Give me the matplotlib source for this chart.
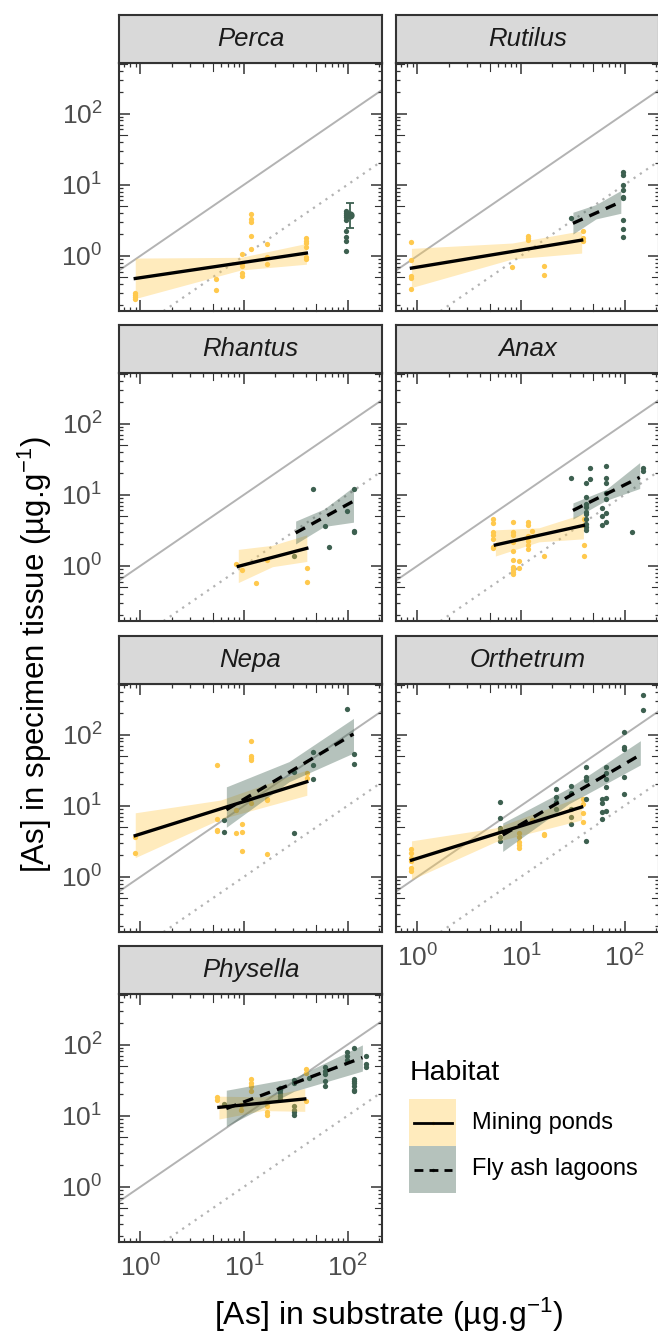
import numpy as np
import matplotlib
matplotlib.use("Agg")
import matplotlib.pyplot as plt
from matplotlib.ticker import LogLocator, NullFormatter
from matplotlib.transforms import blended_transform_factory
from matplotlib.patches import Rectangle

plt.rcParams['font.family'] = ['Liberation Sans', 'DejaVu Sans']
plt.rcParams['mathtext.fontset'] = 'custom'
plt.rcParams['mathtext.rm'] = 'Liberation Sans'
plt.rcParams['mathtext.it'] = 'Liberation Sans:italic'
plt.rcParams['mathtext.bf'] = 'Liberation Sans:bold'

# ---- data (ug/g, log-log) ----
species = ["Perca", "Rutilus", "Rhantus", "Anax", "Nepa", "Orthetrum", "Physella"]
habitats = ["Mining ponds", "Fly ash lagoons"]

# Perca
perca_mp_x = [0.88] * 4 + [5.4] * 2 + [9.6] * 5 + [11.8] * 5 + [16.8] * 3 + [40] * 6
perca_mp_y = [0.30, 0.28, 0.26, 0.25, 0.47, 0.33, 1.05, 0.80, 0.72, 0.58, 0.52,
              3.9, 3.3, 3.0, 1.9, 1.23, 1.46, 0.97, 0.76, 1.76, 1.63, 1.5, 1.31, 0.95, 0.90]
perca_fa_x = [96] * 9
perca_fa_y = [4.2, 4.0, 3.78, 3.54, 3.18, 2.2, 1.81, 1.63, 1.18]
perca_fa_mean = [105, 3.74]          # x, y of summary point
perca_fa_range = [2.46, 5.5]          # error bar

# Rutilus
rutilus_mp_x = [0.87] * 5 + [8.2] + [11.6] * 3 + [16.7] * 2 + [40] * 3
rutilus_mp_y = [1.58, 0.87, 0.52, 0.49, 0.34, 0.70, 1.92, 1.78, 1.66, 0.72, 0.53, 2.25, 1.8, 1.6]
rutilus_fa_x = [30.3] + [97] * 9
rutilus_fa_y = [3.4, 15.3, 13.5, 10, 8.5, 6.8, 6.5, 3.2, 2.4, 1.85]

# Rhantus
rhantus_mp_x = [8.3, 9.5, 13, 16.8, 41, 41]
rhantus_mp_y = [1.06, 0.87, 0.57, 1.2, 0.93, 0.59]
rhantus_fa_x = [30.5, 46.5, 60.3, 66.5, 98, 116, 116, 116]
rhantus_fa_y = [1.39, 12.2, 3.6, 1.82, 5.9, 12, 3.07, 3.0]

# Anax
anax_mp_x = [5.4] * 7 + [8.3] * 10 + [9.5] * 2 + [11.7] * 6 + [12.9, 16.7] + [40.8] * 4
anax_mp_y = [4.5, 4.0, 3.0, 2.7, 2.4, 1.86, 1.76,
             4.1, 3.0, 2.75, 2.14, 1.63, 1.2, 0.97, 0.90, 0.83, 0.76,
             1.18, 0.94, 4.1, 3.7, 2.66, 2.26, 1.96, 1.72, 3.07, 1.37,
             4.6, 3.7, 1.99, 1.36]
anax_fa_x = [30.3] + [42.4] * 10 + [46.4] * 2 + [60] * 3 + [66] * 7 + [118] + [151] * 2
anax_fa_y = [17.1, 14.7, 9.3, 7.5, 6.7, 5.7, 5.4, 4.5, 3.9, 3.5, 3.2, 23.5, 16.4,
             6.4, 5.0, 3.7, 25.6, 17, 14.7, 10.4, 8.8, 5.6, 4.1, 2.97, 24, 21.8]

# Nepa
nepa_mp_x = [0.88] * 2 + [5.44] * 4 + [8.3] * 2 + [9.5] * 3 + [11.8] * 5 + [16.8] * 3 + [41] * 2
nepa_mp_y = [3.59, 2.15, 37.4, 6.4, 4.6, 4.4, 8.6, 4.1, 5.5, 4.2, 2.27,
             80, 50.8, 46.6, 44.2, 11.0, 12.6, 11.9, 2.08, 28.5, 24.2]
nepa_fa_x = [6.4] * 2 + [30.5] * 2 + [46.5] * 3 + [98] + [116] * 2
nepa_fa_y = [6.2, 4.3, 30.1, 4.1, 56, 37.4, 23.7, 227, 53, 38.7]

# Orthetrum
orthetrum_mp_x = [0.87] * 6 + [9.5] * 5 + [12.8] + [16.7] * 2 + [40] * 4
orthetrum_mp_y = [2.45, 2.19, 1.86, 1.67, 1.34, 1.2, 4.1, 3.59, 3.04, 2.82, 2.53,
                  6.2, 4.0, 3.83, 12.6, 10.7, 7.9, 5.86]
orthetrum_fa_x = [6.3] * 6 + [22] * 4 + [30.3] * 5 + [42.4] * 5 + [60.2] * 4 + [66.3] * 6 + [98.5] * 5 + [151] * 2
orthetrum_fa_y = [11.3, 6.7, 4.9, 4.4, 3.6, 3.2, 17.1, 13.3, 11.3, 9.06,
                  18.8, 15.1, 9.06, 6.9, 5.55, 35.4, 25.6, 22.9, 12.3, 3.15,
                  12.6, 10.9, 8.1, 6.5, 35.4, 28.5, 23.4, 18.4, 12.9, 8.4,
                  109, 66, 62.5, 25, 14.5, 358, 222]

# Physella
physella_mp_x = [5.44] * 2 + [9.4] * 2 + [11.8] * 4 + [16.8] * 3 + [40] * 3
physella_mp_y = [18.2, 16.8, 14.3, 11.9, 32.3, 28.4, 26, 22.1, 13.6, 11.3, 10.3, 44.8, 40.2, 16.3]
physella_fa_x = [6.4] + [22.1] * 5 + [30.5] * 6 + [42.6] + [60.4] * 5 + [98] * 3 + [116] * 7 + [150] * 3
physella_fa_y = [14.6, 24.6, 23.0, 20.9, 18.8, 17.2, 31.6, 28.4, 13.6, 12.2, 11.1, 10.3, 34.1,
                 48.8, 42.4, 38, 30.6, 26, 78.8, 69.2, 60.7,
                 90.7, 33, 30.6, 28.4, 26, 23.3, 22.1, 69.2, 53.9, 48.3]

# fitted lm lines and 95% bands (x at start/mid/end, line y at start/end, band low/high)
fit_x = {
    ("Perca", 0): [0.89, 9.3, 40], ("Rutilus", 0): [0.874, 8.2, 38.5], ("Rutilus", 1): [31.7, 53, 92],
    ("Rhantus", 0): [8.8, 18.8, 40.4], ("Rhantus", 1): [31.5, 59.4, 114],
    ("Anax", 0): [5.65, 14.9, 40], ("Anax", 1): [31.7, 66, 140],
    ("Nepa", 0): [0.89, 5.94, 40.4], ("Nepa", 1): [6.75, 27.2, 114],
    ("Orthetrum", 0): [0.875, 5.65, 38.5], ("Orthetrum", 1): [6.65, 29.2, 142],
    ("Physella", 0): [5.72, 15.0, 38.6], ("Physella", 1): [6.74, 30.5, 139],
}
fit_line = {
    ("Perca", 0): [0.479, 1.09], ("Rutilus", 0): [0.67, 1.66], ("Rutilus", 1): [2.86, 5.72],
    ("Rhantus", 0): [0.98, 1.76], ("Rhantus", 1): [2.9, 8.1],
    ("Anax", 0): [1.96, 3.69], ("Anax", 1): [6.0, 17.5],
    ("Nepa", 0): [3.79, 21.7], ("Nepa", 1): [8.77, 102],
    ("Orthetrum", 0): [1.71, 9.57], ("Orthetrum", 1): [3.87, 52],
    ("Physella", 0): [13.1, 17.2], ("Physella", 1): [12.6, 65.5],
}
fit_low = {
    ("Perca", 0): [0.25, 0.63, 0.76], ("Rutilus", 0): [0.357, 0.90, 1.09], ("Rutilus", 1): [2.02, 3.3, 3.96],
    ("Rhantus", 0): [0.58, 0.97, 1.15], ("Rhantus", 1): [2.03, 3.57, 4.1],
    ("Anax", 0): [1.37, 2.17, 2.39], ("Anax", 1): [4.54, 8.3, 12.2],
    ("Nepa", 0): [1.86, 6.5, 14.0], ("Nepa", 1): [4.97, 21.7, 55],
    ("Orthetrum", 0): [0.91, 3.1, 6.3], ("Orthetrum", 1): [2.27, 10.7, 37.4],
    ("Physella", 0): [8.97, 11.8, 11.5], ("Physella", 1): [7.06, 22.1, 42.4],
}
fit_high = {
    ("Perca", 0): [0.927, 0.95, 1.49], ("Rutilus", 0): [1.27, 1.51, 2.25], ("Rutilus", 1): [4.09, 5.25, 8.27],
    ("Rhantus", 0): [1.7, 1.94, 2.72], ("Rhantus", 1): [4.25, 6.3, 12.9],
    ("Anax", 0): [3.2, 3.42, 5.4], ("Anax", 1): [7.66, 11.8, 28.3],
    ("Nepa", 0): [7.94, 12.0, 31.8], ("Nepa", 1): [18.4, 41.7, 169],
    ("Orthetrum", 0): [3.2, 4.87, 13.6], ("Orthetrum", 1): [5.7, 17.8, 82],
    ("Physella", 0): [18.8, 18.4, 24.1], ("Physella", 1): [22.8, 34.1, 99],
}

points = {
    "Perca": [(perca_mp_x, perca_mp_y), (perca_fa_x, perca_fa_y)],
    "Rutilus": [(rutilus_mp_x, rutilus_mp_y), (rutilus_fa_x, rutilus_fa_y)],
    "Rhantus": [(rhantus_mp_x, rhantus_mp_y), (rhantus_fa_x, rhantus_fa_y)],
    "Anax": [(anax_mp_x, anax_mp_y), (anax_fa_x, anax_fa_y)],
    "Nepa": [(nepa_mp_x, nepa_mp_y), (nepa_fa_x, nepa_fa_y)],
    "Orthetrum": [(orthetrum_mp_x, orthetrum_mp_y), (orthetrum_fa_x, orthetrum_fa_y)],
    "Physella": [(physella_mp_x, physella_mp_y), (physella_fa_x, physella_fa_y)],
}

XLIM = (0.62, 215)
YLIM = (0.167, 515)

# ---- style ----
W, H = 658, 1334
point_col = ["#FFC94D", "#3D6050"]
band_alpha = [0.37, 0.38]
line_style = ["-", (0, (3.2, 2.2))]
border = "#333333"
ref_grey = "#B3B3B3"

col_left = [119, 396]
row_top = [63, 373, 684, 994]
pw, ph, sh = 263, 248, 48


def rect(left, top, w, h):
    return [left / W, 1 - (top + h) / H, w / W, h / H]


def mid_ticks(ax):
    # annotation_logticks style: mid-length tick at 5 x 10^n
    tx = blended_transform_factory(ax.transData, ax.transAxes)
    ty = blended_transform_factory(ax.transAxes, ax.transData)
    lx, ly = 7.5 / ph, 7.5 / pw
    for n in range(-2, 4):
        v = 5 * 10.0 ** n
        if XLIM[0] < v < XLIM[1]:
            ax.plot([v, v], [0, lx], color=border, lw=0.8, transform=tx, clip_on=False)
            ax.plot([v, v], [1 - lx, 1], color=border, lw=0.8, transform=tx, clip_on=False)
        if YLIM[0] < v < YLIM[1]:
            ax.plot([0, ly], [v, v], color=border, lw=0.8, transform=ty, clip_on=False)
            ax.plot([1 - ly, 1], [v, v], color=border, lw=0.8, transform=ty, clip_on=False)


fig = plt.figure(figsize=(W / 100, H / 100), dpi=100)

for i, sp in enumerate(species):
    r, c = divmod(i, 2)
    ax = fig.add_axes(rect(col_left[c], row_top[r], pw, ph))
    ax.set_xscale("log")
    ax.set_yscale("log")

    ax.axline((1, 1), (10, 10), color=ref_grey, lw=1.4, zorder=1)
    ax.axline((1, 0.1), (10, 1), color=ref_grey, lw=1.6, ls=(0, (1, 2.4)), zorder=1)

    for h in range(2):
        px, py = points[sp][h]
        ax.plot(px, py, "o", ms=3.8, color=point_col[h], mec="none", zorder=2)

    if sp == "Perca":
        mx, my = perca_fa_mean
        ax.errorbar([mx], [my], yerr=[[my - perca_fa_range[0]], [perca_fa_range[1] - my]],
                    fmt="o", ms=6, color=point_col[1], mec="none", elinewidth=1.3,
                    capsize=3, capthick=1.3, zorder=3)

    for h in range(2):
        key = (sp, h)
        if key not in fit_x:
            continue
        fx = fit_x[key]
        ax.fill_between(fx, fit_low[key], fit_high[key], color=point_col[h],
                        alpha=band_alpha[h], lw=0, zorder=3)
        ax.plot([fx[0], fx[-1]], fit_line[key], color="black", lw=2.4,
                ls=line_style[h], zorder=4)

    ax.set_xlim(*XLIM)
    ax.set_ylim(*YLIM)

    for a in (ax.xaxis, ax.yaxis):
        a.set_major_locator(LogLocator(base=10, numticks=10))
        a.set_minor_locator(LogLocator(base=10, subs=[2, 3, 4, 6, 7, 8, 9], numticks=30))
        a.set_minor_formatter(NullFormatter())
    ax.tick_params(which="both", direction="in", top=True, right=True,
                   color=border, width=0.9)
    ax.tick_params(which="major", length=8, width=1.1, labelsize=19, labelcolor="#4D4D4D")
    ax.tick_params(which="minor", length=2.6)
    ax.tick_params(axis="y", pad=12)
    ax.tick_params(axis="x", pad=9)
    mid_ticks(ax)

    show_x = (r == 3) or (r == 2 and c == 1)
    ax.tick_params(labelleft=(c == 0), labelbottom=show_x)

    for s in ax.spines.values():
        s.set_color(border)
        s.set_linewidth(1.5)

    # facet strip
    sax = fig.add_axes(rect(col_left[c], row_top[r] - sh, pw, sh))
    sax.set_facecolor("#D9D9D9")
    sax.set_xticks([])
    sax.set_yticks([])
    for s in sax.spines.values():
        s.set_color(border)
        s.set_linewidth(1.5)
    sax.text(0.5, 0.5, sp, ha="center", va="center", fontsize=18.5,
             style="italic", color="#1A1A1A", transform=sax.transAxes)

# axis titles
fig.text(35 / W, 1 - 655 / H, "[As] in specimen tissue (µg.g$^{-1}$)", rotation=90,
         ha="center", va="center", fontsize=22.5, color="black")
fig.text(389 / W, 1 - 1315 / H, "[As] in substrate (µg.g$^{-1}$)",
         ha="center", va="center", fontsize=23, color="black")

# legend, drawn in pixel space
lax = fig.add_axes([0, 0, 1, 1], facecolor="none")
lax.set_xlim(0, W)
lax.set_ylim(H, 0)
lax.axis("off")
lax.text(410, 1073, "Habitat", ha="left", va="center", fontsize=20.5, color="black")
for h, lab in enumerate(habitats):
    top = 1099 + 47 * h
    lax.add_patch(Rectangle((409, top), 47, 47, facecolor=point_col[h],
                            alpha=band_alpha[h], lw=0))
    yc = top + 23.5
    lax.plot([433], [yc], "o", ms=2.5, color=point_col[h], mec="none", zorder=2)
    lax.plot([414, 452], [yc, yc], color="black", lw=2, ls=line_style[h], zorder=3)
    lax.text(472, yc, lab, ha="left", va="center", fontsize=17, color="black")

fig.savefig("out.png", dpi=100)
